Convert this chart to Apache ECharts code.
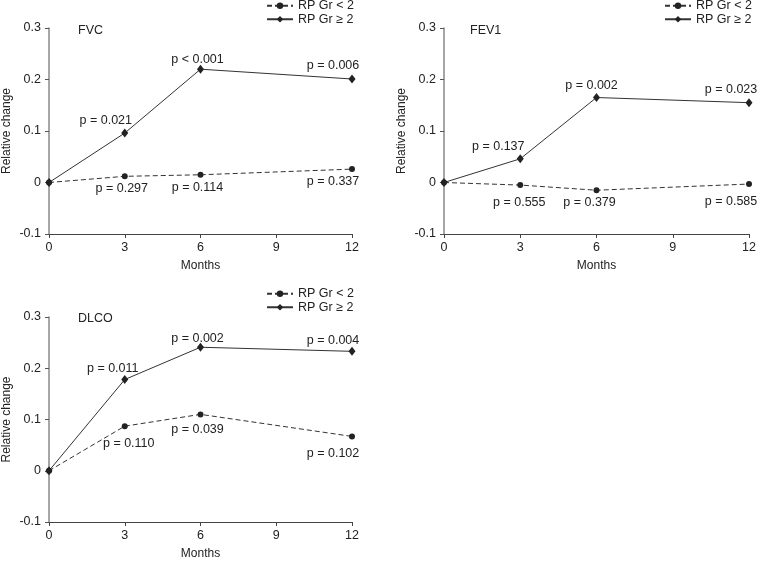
<!DOCTYPE html>
<html>
<head>
<meta charset="utf-8">
<script src="https://cdn.jsdelivr.net/npm/echarts@6/dist/echarts.min.js"></script>
<style>
  html, body { margin: 0; padding: 0; background: #fff; }
  #main { width: 763px; height: 562px; }
</style>
</head>
<body>
<div id="main"></div>
<script>
// data
const months = [0, 3, 6, 12];
const xTicks = [0, 3, 6, 9, 12];
const yTicks = [-0.1, 0, 0.1, 0.2, 0.3];

const fvcLow = [0, 0.012, 0.015, 0.026];
const fvcHigh = [0, 0.096, 0.220, 0.201];
const fev1Low = [0, -0.005, -0.015, -0.003];
const fev1High = [0, 0.046, 0.165, 0.155];
const dlcoLow = [0, 0.087, 0.110, 0.067];
const dlcoHigh = [0, 0.178, 0.241, 0.233];

const fvcPLow = ['', 'p = 0.297', 'p = 0.114', 'p = 0.337'];
const fvcPHigh = ['', 'p = 0.021', 'p < 0.001', 'p = 0.006'];
const fev1PLow = ['', 'p = 0.555', 'p = 0.379', 'p = 0.585'];
const fev1PHigh = ['', 'p = 0.137', 'p = 0.002', 'p = 0.023'];
const dlcoPLow = ['', 'p = 0.110', 'p = 0.039', 'p = 0.102'];
const dlcoPHigh = ['', 'p = 0.011', 'p = 0.002', 'p = 0.004'];

const panelNames = ['FVC', 'FEV1', 'DLCO'];
const lowName = 'RP Gr < 2';
const highName = 'RP Gr \u2265 2';

// label offsets (px, from the marker centre)
const offs = {
  fvcLow: [null, [-3, 12], [-3, 13], [-19, 12]],
  fvcHigh: [null, [-19, -13], [-3, -10], [-19, -13]],
  fev1Low: [null, [-1, 17], [-7, 12], [-18, 18]],
  fev1High: [null, [-22, -12], [-5, -12], [-18, -13]],
  dlcoLow: [null, [4, 17], [-3, 15], [-19, 17]],
  dlcoHigh: [null, [-12, -11], [-3, -9], [-19, -11]]
}

const font = 'Liberation Sans, Arial, sans-serif'
const ink = '#222'

const grids = [
  { left: 47, top: 28, width: 305, height: 206 },
  { left: 444, top: 28, width: 305, height: 206 },
  { left: 47, top: 317, width: 305, height: 205 }
]

function pts(vals, labels, off) {
  return months.map((m, i) => {
    const item = { value: [m, vals[i]] }
    if (labels[i]) {
      item.label = { show: true, position: 'inside', offset: off[i], formatter: labels[i] }
    }
    return item
  })
}

function makeSeries(g, low, high, pLow, pHigh, offLow, offHigh) {
  return [
    {
      name: lowName, type: 'line', xAxisIndex: g, yAxisIndex: g,
      data: pts(low, pLow, offLow),
      symbol: 'circle', symbolSize: 6,
      itemStyle: { color: ink },
      lineStyle: { color: '#333', width: 1, type: [5, 3] },
      label: { color: ink, fontSize: 12.5, fontFamily: font },
      z: 2
    },
    {
      name: highName, type: 'line', xAxisIndex: g, yAxisIndex: g,
      data: pts(high, pHigh, offHigh),
      symbol: 'diamond', symbolSize: [7, 9],
      itemStyle: { color: ink },
      lineStyle: { color: '#333', width: 1, type: 'solid' },
      label: { color: ink, fontSize: 12.5, fontFamily: font },
      z: 3
    }
  ]
}

const xAxes = grids.map((_, i) => ({
  type: 'value', gridIndex: i, min: xTicks[0], max: xTicks[xTicks.length - 1], interval: 3,
  name: 'Months', nameLocation: 'middle', nameGap: 26,
  nameTextStyle: { color: ink, fontSize: 12, fontFamily: font },
  axisLine: { onZero: false, lineStyle: { color: '#444', width: 1 } },
  axisTick: { length: 4, lineStyle: { color: '#444' } },
  axisLabel: { color: ink, fontSize: 12.5, fontFamily: font, margin: 7 },
  splitLine: { show: false }
}))

const yAxes = grids.map((_, i) => ({
  type: 'value', gridIndex: i, min: yTicks[0], max: yTicks[yTicks.length - 1], interval: 0.1,
  name: 'Relative change', nameLocation: 'middle', nameGap: 36,
  nameTextStyle: { color: ink, fontSize: 12, fontFamily: font },
  axisLine: { show: true, onZero: false, lineStyle: { color: '#888', width: 1.5 } },
  axisTick: { show: true, length: 4, lineStyle: { color: '#555' } },
  axisLabel: {
    color: ink, fontSize: 12.5, fontFamily: font, margin: 8,
    formatter: (v) => Math.abs(v) < 1e-9 ? '0' : v.toFixed(1)
  },
  splitLine: { show: false }
}))

const legendPos = [
  { left: 266, top: -1 },
  { left: 664, top: -1 },
  { left: 266, top: 287 }
]

const titlePos = [
  { left: 78, top: 24 },
  { left: 470, top: 24 },
  { left: 78, top: 312 }
]

const option = {
  animation: false,
  backgroundColor: '#fff',
  title: panelNames.map((t, i) => ({
    text: t, left: titlePos[i].left, top: titlePos[i].top, padding: 0,
    textStyle: { color: ink, fontSize: 12.5, fontWeight: 'normal', fontFamily: font }
  })),
  legend: legendPos.map((p) => ({
    left: p.left, top: p.top, orient: 'vertical', padding: 0,
    itemWidth: 26, itemHeight: 8, itemGap: 0,
    data: [lowName, highName],
    textStyle: { color: ink, fontSize: 12.5, fontFamily: font, lineHeight: 13.5 }
  })),
  grid: grids,
  xAxis: xAxes,
  yAxis: yAxes,
  series: [
    ...makeSeries(0, fvcLow, fvcHigh, fvcPLow, fvcPHigh, offs.fvcLow, offs.fvcHigh),
    ...makeSeries(1, fev1Low, fev1High, fev1PLow, fev1PHigh, offs.fev1Low, offs.fev1High),
    ...makeSeries(2, dlcoLow, dlcoHigh, dlcoPLow, dlcoPHigh, offs.dlcoLow, offs.dlcoHigh)
  ]
}

const chart = echarts.init(document.getElementById('main'), null, { renderer: 'canvas' })
chart.setOption(option)
</script>
</body>
</html>
